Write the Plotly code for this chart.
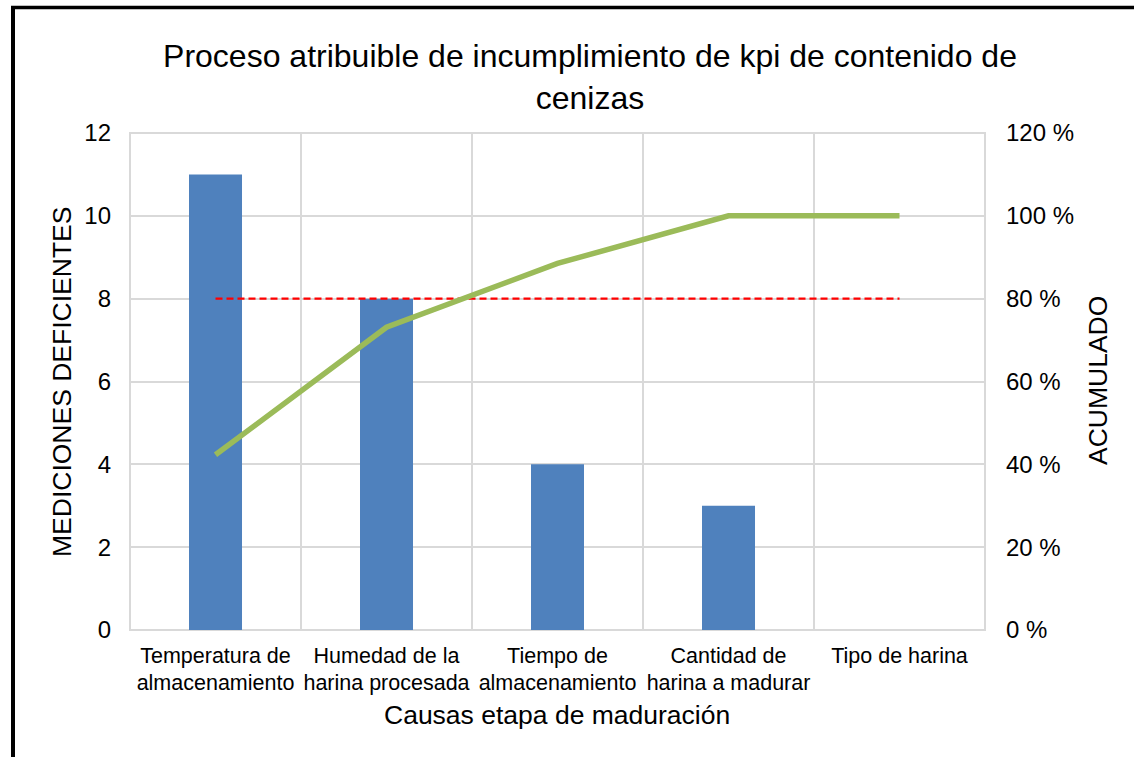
import plotly.graph_objects as go

categories = ["Temperatura de<br>almacenamiento", "Humedad de la<br>harina procesada",
              "Tiempo de<br>almacenamiento", "Cantidad de<br>harina a madurar", "Tipo de harina"]
mediciones = [11, 8, 4, 3, 0]
acumulado = [0.423, 0.731, 0.885, 1.0, 1.0]
meta = [0.8, 0.8, 0.8, 0.8, 0.8]
left_ticks = [0, 2, 4, 6, 8, 10, 12]
right_tickvals = [0, 0.2, 0.4, 0.6, 0.8, 1.0, 1.2]
right_ticktext = ["0 %", "20 %", "40 %", "60 %", "80 %", "100 %", "120 %"]

W, H = 1134, 757
L, R, T, B = 130, 985, 133, 630

def px(x):
    return (x - L) / (R - L)

def py(y):
    return (B - y) / (B - T)

fig = go.Figure()
fig.add_trace(go.Bar(x=categories, y=mediciones, marker=dict(color="#4F81BD", line=dict(width=0)),
                     width=0.31, yaxis="y", showlegend=False))
fig.add_trace(go.Scatter(x=categories, y=meta, mode="lines", yaxis="y2",
                         line=dict(color="#FF0000", width=2.3, dash="7px,4px"), showlegend=False))
fig.add_trace(go.Scatter(x=categories, y=acumulado, mode="lines", yaxis="y2",
                         line=dict(color="#9BBB59", width=5.5), showlegend=False))

font = "Liberation Sans, Arial, sans-serif"
fig.update_layout(
    width=W, height=H,
    margin=dict(l=L, r=W - R, t=T, b=H - B, autoexpand=False),
    paper_bgcolor="white", plot_bgcolor="white",
    font=dict(family=font, color="#000000"),
    title=dict(text="Proceso atribuible de incumplimiento de kpi de contenido de<br>cenizas",
               xref="container", yref="container",
               x=590 / W, xanchor="center", y=1 - 67 / H, yanchor="middle",
               font=dict(size=32, family=font, color="#000000")),
    xaxis=dict(type="category", tickson="boundaries", showgrid=True, gridcolor="#D9D9D9", gridwidth=2,
               ticks="", tickfont=dict(size=21.5), showline=False, zeroline=False, tickangle=0,
               automargin=False, range=[-0.5, 4.5], ticklabelstandoff=10),
    yaxis=dict(range=[0, 12], tickvals=left_ticks, showgrid=True, gridcolor="#D9D9D9", gridwidth=2,
               tickfont=dict(size=24), ticks="", zeroline=False, showline=False, automargin=False,
               ticklabelstandoff=18),
    yaxis2=dict(range=[0, 1.2], overlaying="y", side="right", tickvals=right_tickvals,
                ticktext=right_ticktext, showgrid=False, zeroline=False, showline=False,
                tickfont=dict(size=24), ticks="", ticklabelstandoff=20, automargin=False),
    annotations=[
        dict(text="MEDICIONES DEFICIENTES", xref="paper", yref="paper", x=px(62), y=py(382),
             xanchor="center", yanchor="middle", textangle=-90, showarrow=False,
             font=dict(size=26.5, family=font, color="#000000")),
        dict(text="ACUMULADO", xref="paper", yref="paper", x=px(1098), y=py(381),
             xanchor="center", yanchor="middle", textangle=-90, showarrow=False,
             font=dict(size=26.5, family=font, color="#000000")),
        dict(text="Causas etapa de maduración", xref="paper", yref="paper", x=px(557), y=py(715),
             xanchor="center", yanchor="middle", showarrow=False,
             font=dict(size=26.5, family=font, color="#000000")),
    ],
    shapes=[
        dict(type="rect", xref="paper", yref="paper", x0=0, x1=1, y0=0, y1=1,
             line=dict(color="#D9D9D9", width=2), layer="below"),
        dict(type="line", xref="paper", yref="paper", x0=px(13), x1=px(13), y0=py(6), y1=py(H + 5),
             line=dict(color="#000000", width=4)),
        dict(type="line", xref="paper", yref="paper", x0=px(11), x1=px(W + 5), y0=py(7.5), y1=py(7.5),
             line=dict(color="#000000", width=3.5)),
    ],
)

fig.write_html("out.html", config={"displayModeBar": False},
               post_script="document.body.style.margin='0';document.body.style.overflow='hidden';")
